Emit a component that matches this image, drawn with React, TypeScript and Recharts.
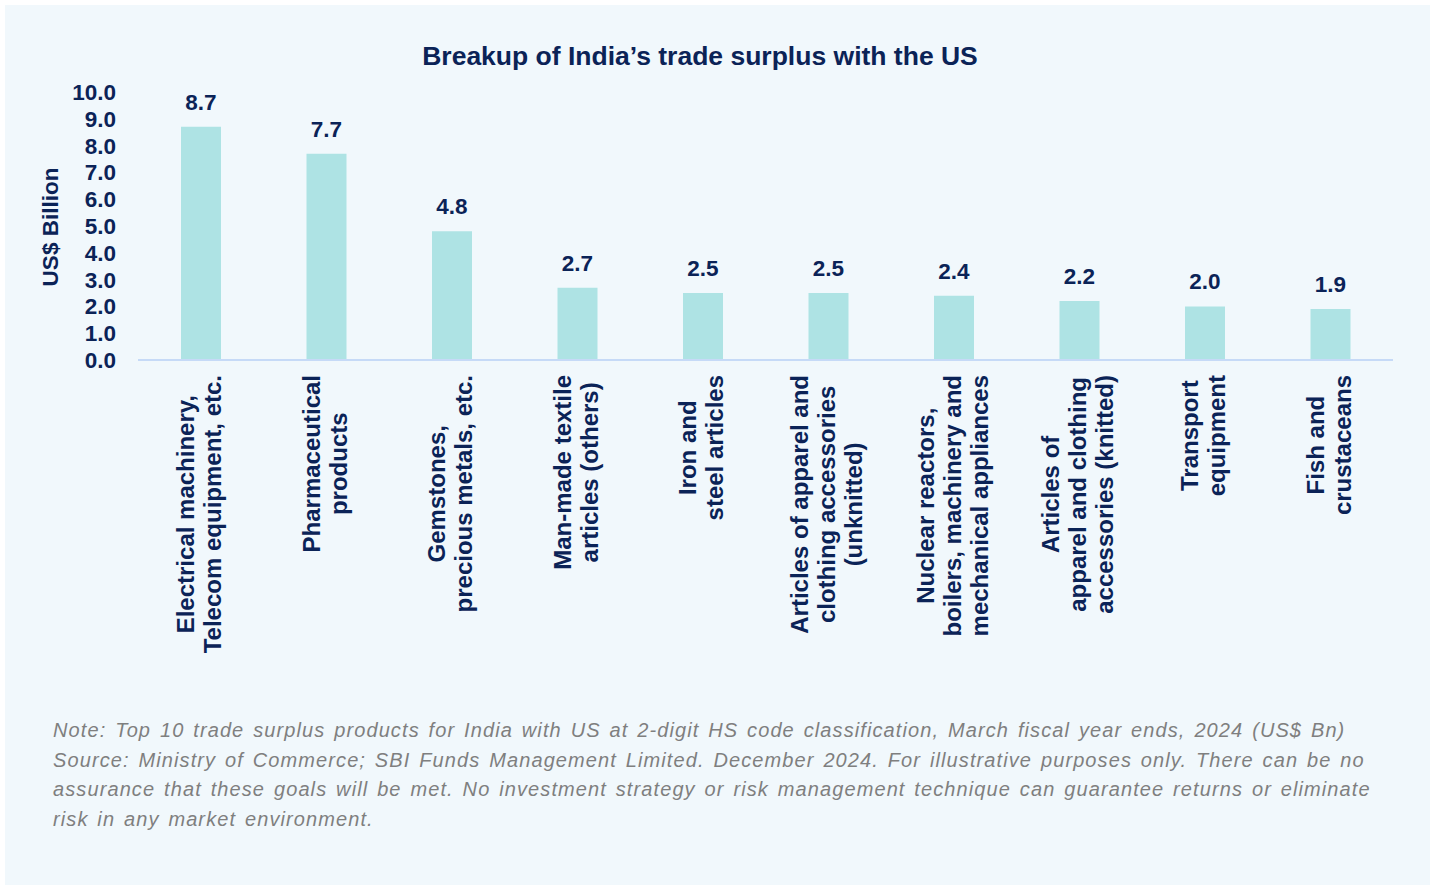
import { Bar, BarChart, LabelList, XAxis, YAxis, Label } from "recharts"

const categories = [
    "Electrical machinery,\nTelecom equipment, etc.",
    "Pharmaceutical\nproducts",
    "Gemstones,\nprecious metals, etc.",
    "Man-made textile\narticles (others)",
    "Iron and\nsteel articles",
    "Articles of apparel and\nclothing accessories\n(unknitted)",
    "Nuclear reactors,\nboilers, machinery and\nmechanical appliances",
    "Articles of\napparel and clothing\naccessories (knitted)",
    "Transport\nequipment",
    "Fish and\ncrustaceans",
]

const surplus = [8.7, 7.7, 4.8, 2.7, 2.5, 2.5, 2.4, 2.2, 2.0, 1.9]

const yTicks = [0, 1, 2, 3, 4, 5, 6, 7, 8, 9, 10]

const title = "Breakup of India’s trade surplus with the US"
const yLabel = "US$ Billion"

const noteLines = [
    "Note: Top 10 trade surplus products for India with US at 2-digit HS code classification, March fiscal year ends, 2024 (US$ Bn)",
    "Source: Ministry of Commerce; SBI Funds Management Limited. December 2024. For illustrative purposes only. There can be no",
    "assurance that these goals will be met. No investment strategy or risk management technique can guarantee returns or eliminate",
    "risk in any market environment.",
]

const chartData = categories.map((name, i) => ({ name, value: surplus[i] }))

const FONT = '"Liberation Sans", Arial, sans-serif'
const NAVY = "#0b2357"
const LABEL_SIZE = 24
const LINE_GAP = 27

let ctx: CanvasRenderingContext2D | null = null
function measure(text: string) {
    if (!ctx) {
        ctx = document.createElement("canvas").getContext("2d")
    }
    if (!ctx) return text.length * 12
    ctx.font = `bold ${LABEL_SIZE}px "Liberation Sans"`
    return ctx.measureText(text).width
}

function CategoryTick(props: any) {
    const { x, y, payload } = props
    const lines = String(payload.value).split("\n")
    const maxW = Math.max(...lines.map(measure))
    const cy = y + 15 + maxW / 2
    return (
        <g>
            {lines.map((ln, i) => {
                const bx = x + (i - (lines.length - 1) / 2) * LINE_GAP + 7
                return (
                    <text
                        key={i}
                        x={bx}
                        y={cy}
                        transform={`rotate(-90 ${bx} ${cy})`}
                        textAnchor="middle"
                        fill={NAVY}
                        fontFamily={FONT}
                        fontWeight="bold"
                        fontSize={LABEL_SIZE}
                    >
                        {ln}
                    </text>
                )
            })}
        </g>
    )
}

export default function App() {
    return (
        <div style={{ position: "relative", width: 1435, height: 886, background: "#ffffff", overflow: "hidden" }}>
            <style>{`body{margin:0}`}</style>
            <div
                style={{
                    position: "absolute",
                    left: 5,
                    top: 5,
                    width: 1425,
                    height: 880,
                    background: "#f1f8fc",
                }}
            />
            <div style={{ position: "absolute", left: 0, top: 0 }}>
                <BarChart
                    width={1435}
                    height={886}
                    data={chartData}
                    margin={{ top: 92, right: 42, bottom: 226, left: 0 }}
                    barSize={40}
                >
                    <XAxis
                        dataKey="name"
                        interval={0}
                        height={300}
                        tickLine={false}
                        tickSize={0}
                        tickMargin={0}
                        axisLine={{ stroke: "#c6daf7", strokeWidth: 2 }}
                        tick={<CategoryTick />}
                    />
                    <YAxis
                        width={138}
                        domain={[0, 10]}
                        ticks={yTicks}
                        interval={0}
                        axisLine={false}
                        tickLine={false}
                        tickSize={0}
                        tickMargin={22}
                        tickFormatter={(v: number) => v.toFixed(1)}
                        tick={{ fill: NAVY, fontFamily: FONT, fontWeight: "bold", fontSize: 22.5 }}
                    >
                        <Label
                            content={() => (
                                <text
                                    x={58}
                                    y={227}
                                    transform="rotate(-90 58 227)"
                                    textAnchor="middle"
                                    fill={NAVY}
                                    fontFamily={FONT}
                                    fontWeight="bold"
                                    fontSize={22.5}
                                >
                                    {yLabel}
                                </text>
                            )}
                        />
                    </YAxis>
                    <Bar dataKey="value" fill="#aee3e4" isAnimationActive={false}>
                        <LabelList
                            dataKey="value"
                            position="top"
                            offset={17}
                            formatter={(v: any) => Number(v).toFixed(1)}
                            fill={NAVY}
                            fontFamily={FONT}
                            fontWeight="bold"
                            fontSize={22.5}
                        />
                    </Bar>
                </BarChart>
            </div>
            <svg width={1435} height={886} style={{ position: "absolute", left: 0, top: 0, pointerEvents: "none" }}>
                <text x={700} y={65} textAnchor="middle" fill={NAVY} fontFamily={FONT} fontWeight="bold" fontSize={26.5}>
                    {title}
                </text>
                {noteLines.map((ln, i) => (
                    <text
                        key={i}
                        x={53}
                        y={737 + i * 29.5}
                        fill="#7f7f7f"
                        fontFamily={FONT}
                        fontStyle="italic"
                        fontSize={20}
                        letterSpacing={1.1}
                        wordSpacing={2.2}
                    >
                        {ln}
                    </text>
                ))}
            </svg>
        </div>
    )
}
